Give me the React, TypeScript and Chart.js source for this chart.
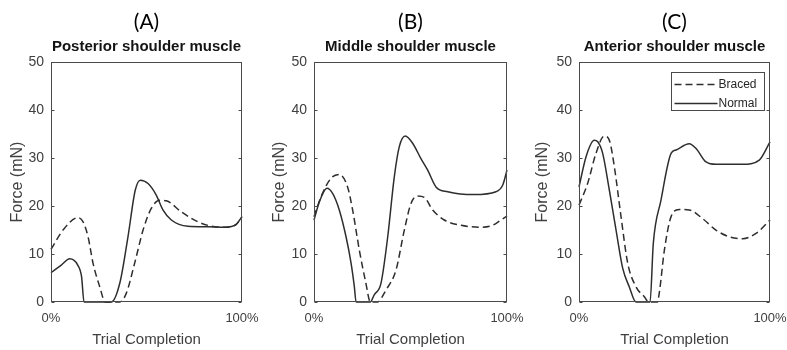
import React, { useEffect, useRef } from "react";
import { Chart, registerables } from "chart.js";

Chart.register(...registerables);

// ---------- data ----------
const panelLetters = ["(A)", "(B)", "(C)"];
const panelTitles = ["Posterior shoulder muscle", "Middle shoulder muscle", "Anterior shoulder muscle"];
const seriesLabels = ["Braced", "Normal"];
const yTickValues = [0, 10, 20, 30, 40, 50];
const xTickValues = [0, 100];
const xTickLabels = ["0%", "100%"];
const xAxisTitle = "Trial Completion";
const yAxisTitle = "Force (mN)";

// [percent of trial, force mN]
const posteriorBraced = [
  [0, 11.0], [6.3, 15.0], [14.1, 17.6], [16.8, 16.7], [19.4, 13.6], [22, 8.1], [25.5, 3.2], [28.4, 0],
  [36, 0], [39.4, 1.8], [43.8, 8.1], [48.2, 15.0], [52.5, 19.5], [56.9, 21.2], [60.4, 21.1], [68.2, 18.8],
  [77, 16.7], [85.7, 15.7], [91, 15.6], [97, 16.2], [100, 17.8],
];
const posteriorNormal = [
  [0, 6.1], [5.4, 7.7], [9.8, 9.0], [14, 7.7], [16, 5.3], [17.3, 0], [31.6, 0], [36, 3.9], [40.3, 13.6],
  [44.1, 23.3], [46.8, 25.4], [50.8, 24.7], [55.1, 22.3], [58.6, 19.2], [63, 17.1], [71.7, 15.8],
  [82.2, 15.7], [91, 15.6], [97, 16.2], [100, 17.8],
];
const middleBraced = [
  [0, 17.8], [3.6, 21.9], [8.8, 25.8], [13.1, 26.6], [17.4, 24.0], [20, 19.2], [23.5, 10.8], [26.9, 3.9],
  [29.2, 0], [32.8, 0], [37.3, 2.5], [42.5, 6.7], [46.8, 15], [50.3, 20.6], [53.7, 22.1], [57.2, 21.8],
  [61.5, 19.2], [67.5, 17.1], [76.2, 16.0], [86.5, 15.6], [92.6, 16.0], [96.9, 17.1], [100, 17.9],
];
const middleNormal = [
  [0, 17.1], [2.8, 20.9], [6.7, 23.7], [9.7, 22.6], [13.1, 19.2], [16.6, 13.6], [19.2, 8.1], [20.9, 3.2],
  [21.8, 0], [29.2, 0], [31.2, 1.5], [34.7, 3.9], [38.2, 13.6], [41.6, 26.1], [44.2, 32.4], [47.3, 34.6],
  [51.1, 33.1], [55.4, 29.9], [58.9, 27.5], [63.2, 24.0], [69.3, 23.0], [83, 22.4], [94.3, 23.0],
  [97.8, 24.4], [100, 27.5],
];
const anteriorBraced = [
  [0, 20.2], [4.5, 24.7], [8.9, 31.0], [13.2, 34.6], [15.9, 33.7], [18.5, 28.2], [22, 17.8], [25.5, 8.1],
  [29.8, 3.2], [34.2, 1.1], [36.5, 0], [41, 0], [42, 1.8], [44.7, 10.8], [48.2, 17.8], [52.5, 19.3],
  [57.7, 19.2], [64.7, 17.4], [71.7, 15.0], [78.7, 13.6], [85.7, 13.2], [92.7, 14.3], [100, 17.1],
];
const anteriorNormal = [
  [0, 24.0], [3.7, 30.3], [8, 33.7], [9.8, 33.4], [12.4, 31.0], [15.9, 23.3], [19.4, 15], [22.9, 7.0],
  [26.3, 3.2], [29.8, 0], [37.2, 0], [38.9, 12.2], [42.9, 21.2], [48.2, 31.0], [50.8, 31.7], [57.7, 33.0],
  [61.3, 32.0], [66.5, 29.2], [71.7, 28.7], [85.7, 28.7], [94.4, 29.6], [100, 33.4],
];

const bracedSeries = [posteriorBraced, middleBraced, anteriorBraced];
const normalSeries = [posteriorNormal, middleNormal, anteriorNormal];

// ---------- layout / style ----------
const FONT = "'Liberation Sans', Arial, sans-serif";
const LINE_COLOR = "#2e2e2e";
const TEXT_COLOR = "#404040";
const PANEL_LAYOUT = [
  { left: 0, width: 293, axisW: 51, plotW: 191 },
  { left: 262, width: 297, axisW: 52, plotW: 193 },
  { left: 525, width: 299, axisW: 54, plotW: 191 },
];

const framePlugin = {
  id: "frame",
  afterDatasetsDraw(chart: any) {
    const { ctx, chartArea: a, scales } = chart;
    ctx.save();
    ctx.strokeStyle = "#4a4a4a";
    ctx.lineWidth = 1;
    const l = Math.round(a.left) + 0.5;
    const r = Math.round(a.right) - 0.5;
    const t = Math.round(a.top) + 0.5;
    const b = Math.round(a.bottom) - 0.5;
    ctx.strokeRect(l, t, r - l, b - t);
    ctx.beginPath();
    scales.y.ticks.forEach((tk: any) => {
      const py = Math.round(scales.y.getPixelForValue(tk.value)) + 0.5;
      ctx.moveTo(l, py);
      ctx.lineTo(l + 3, py);
      ctx.moveTo(r, py);
      ctx.lineTo(r - 3, py);
    });
    ctx.stroke();
    ctx.restore();
  },
};

const boxLegendPlugin = {
  id: "boxLegend",
  afterDatasetsDraw(chart: any, _args: any, opts: any) {
    if (!opts || !opts.display) return;
    const { ctx, chartArea: a } = chart;
    const w = 93;
    const h = 38;
    const x0 = Math.round(a.right - 6 - w) + 0.5;
    const y0 = Math.round(a.top + 10) + 0.5;
    ctx.save();
    ctx.fillStyle = "#fff";
    ctx.fillRect(x0, y0, w, h);
    ctx.strokeStyle = "#4a4a4a";
    ctx.lineWidth = 1;
    ctx.strokeRect(x0, y0, w, h);
    chart.data.datasets.forEach((ds: any, i: number) => {
      const cy = y0 + 12 + i * 19;
      ctx.beginPath();
      ctx.setLineDash(ds.borderDash || []);
      ctx.strokeStyle = ds.borderColor;
      ctx.lineWidth = ds.borderWidth;
      ctx.moveTo(x0 + 3, cy);
      ctx.lineTo(x0 + 46, cy);
      ctx.stroke();
      ctx.setLineDash([]);
      ctx.fillStyle = "#262626";
      ctx.font = `12px ${FONT}`;
      ctx.textBaseline = "middle";
      ctx.textAlign = "left";
      ctx.fillText(ds.label, x0 + 47, cy + 0.5);
    });
    ctx.restore();
  },
};

function Panel({ index }: { index: number }) {
  const ref = useRef<HTMLCanvasElement | null>(null);
  const lay = PANEL_LAYOUT[index];

  useEffect(() => {
    if (!ref.current) return;
    const toXY = (arr: number[][]) => arr.map(([x, y]) => ({ x, y }));
    const rightPad = lay.width - lay.axisW - lay.plotW;
    const chart = new Chart(ref.current, {
      type: "line",
      data: {
        datasets: [
          {
            label: seriesLabels[0],
            data: toXY(bracedSeries[index]),
            borderColor: LINE_COLOR,
            borderWidth: 1.5,
            borderDash: [7, 4],
            pointRadius: 0,
            cubicInterpolationMode: "monotone",
            fill: false,
            clip: 3,
          },
          {
            label: seriesLabels[1],
            data: toXY(normalSeries[index]),
            borderColor: LINE_COLOR,
            borderWidth: 1.5,
            pointRadius: 0,
            cubicInterpolationMode: "monotone",
            fill: false,
            clip: 3,
          },
        ],
      },
      options: {
        responsive: false,
        animation: false,
        events: [],
        layout: { padding: 0 },
        plugins: {
          legend: { display: false },
          tooltip: { enabled: false },
          title: {
            display: true,
            text: panelLetters[index],
            font: { family: "Lato, 'Open Sans', sans-serif", size: 21, weight: "normal" },
            color: "#000",
            padding: { top: 10, bottom: 3 },
          },
          subtitle: {
            display: true,
            text: panelTitles[index],
            font: { family: FONT, size: 15, weight: "bold" },
            color: "#141414",
            padding: { top: 0, bottom: 6 },
          },
          boxLegend: { display: index === 2 },
        } as any,
        scales: {
          x: {
            type: "linear",
            min: 0,
            max: 100,
            afterBuildTicks: (s: any) => {
              s.ticks = xTickValues.map((v) => ({ value: v }));
            },
            ticks: {
              callback: (_v: any, i: number) => xTickLabels[i],
              font: { family: FONT, size: 13 },
              color: TEXT_COLOR,
              padding: 9,
              maxRotation: 0,
              autoSkip: false,
            },
            grid: { display: false, drawTicks: false },
            border: { display: false },
            title: {
              display: true,
              text: xAxisTitle,
              font: { family: FONT, size: 15 },
              color: TEXT_COLOR,
              padding: { top: 0, bottom: 1 },
            },
            afterFit: (s: any) => {
              s.height = 48;
            },
          },
          y: {
            type: "linear",
            position: "left",
            min: 0,
            max: 50,
            afterBuildTicks: (s: any) => {
              s.ticks = yTickValues.map((v) => ({ value: v }));
            },
            ticks: {
              font: { family: FONT, size: 14 },
              color: TEXT_COLOR,
              padding: 7,
            },
            grid: { display: false, drawTicks: false },
            border: { display: false },
            title: {
              display: true,
              text: yAxisTitle,
              font: { family: FONT, size: 16 },
              color: TEXT_COLOR,
              padding: { top: 8, bottom: 0 },
            },
            afterFit: (s: any) => {
              s.width = lay.axisW;
            },
          },
          yRight: {
            type: "linear",
            position: "right",
            min: 0,
            max: 50,
            ticks: { display: false },
            grid: { display: false, drawTicks: false },
            border: { display: false },
            afterFit: (s: any) => {
              s.width = rightPad;
            },
          },
        },
      } as any,
      plugins: [framePlugin, boxLegendPlugin],
    });
    return () => chart.destroy();
  }, [index]);

  return (
    <canvas
      ref={ref}
      width={lay.width}
      height={350}
      style={{ position: "absolute", left: lay.left, top: 0 }}
    />
  );
}

export default function App() {
  return (
    <div
      style={{
        position: "fixed",
        left: 0,
        top: 0,
        width: 787,
        height: 350,
        overflow: "hidden",
        background: "#fff",
      }}
    >
      {[0, 1, 2].map((i) => (
        <Panel key={i} index={i} />
      ))}
    </div>
  );
}
